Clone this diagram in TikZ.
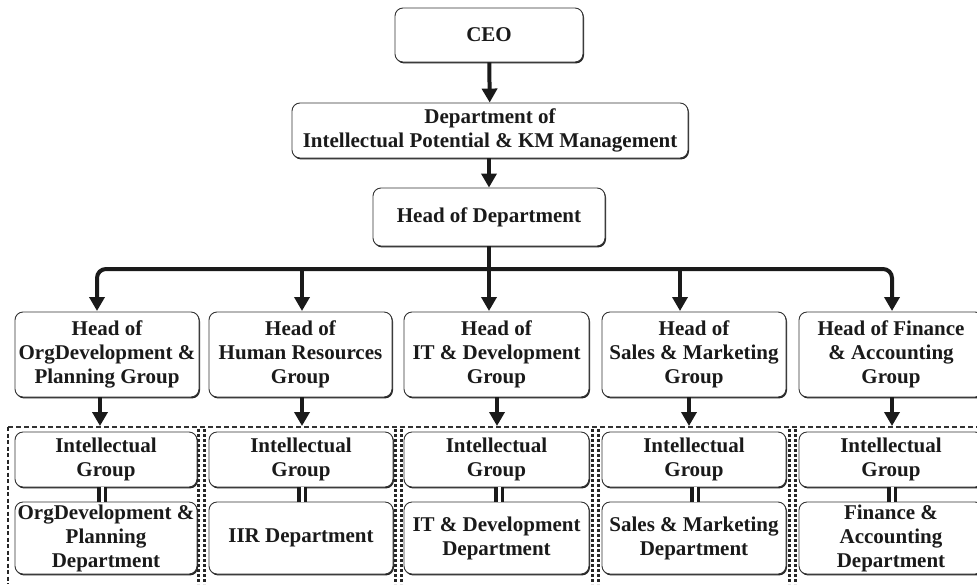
\documentclass[tikz,border=0pt]{standalone}
\usepackage{fontspec}
\setmainfont{Liberation Serif}
\usetikzlibrary{arrows.meta,shadows}
\definecolor{ink}{HTML}{1A1A1A}
\definecolor{edge}{HTML}{333333}
\begin{document}
\begin{tikzpicture}[x=1pt,y=-1pt,
  box/.style={draw=edge, line width=0.9pt, rounded corners=8pt, fill=white,
    drop shadow={shadow xshift=1pt, shadow yshift=-1.4pt, fill=black!85, opacity=1},
    align=center, inner sep=0pt, text=ink,
    font=\bfseries\fontsize{21}{24}\selectfont},
  arr/.style={draw=ink, line width=4pt, -{Triangle[width=15pt,length=14pt]}},
  bar/.style={draw=ink, line width=4pt},
  dbl/.style={draw=ink, line width=3.6pt, double=white, double distance=3pt},
  topdash/.style={draw=black!80, line width=1.5pt, dash pattern=on 5pt off 3pt},
  sidedash/.style={draw=black!85, line width=2.4pt, dash pattern=on 4pt off 2.5pt},
  sepdash/.style={draw=black!85, line width=2.6pt, dash pattern=on 3pt off 2pt},
]
\useasboundingbox[fill=white] (0,0) rectangle (977,584);

% top levels
\node[box, minimum width=188pt, minimum height=54pt] (ceo) at (489,35) {CEO};
\node[box, minimum width=396pt, minimum height=55pt] (dept) at (490,130.5)
  {Department of\\Intellectual Potential \& KM Management};
\node[box, minimum width=232pt, minimum height=58pt] (hod) at (489,217) {Head of Department};

% heads of groups
\node[box, minimum width=184pt, minimum height=85pt] (h1) at (107,354.5) {Head of\\OrgDevelopment \&\\Planning Group};
\node[box, minimum width=183pt, minimum height=85pt] (h2) at (300.5,354.5) {Head of\\Human Resources\\Group};
\node[box, minimum width=185pt, minimum height=85pt] (h3) at (496.5,354.5) {Head of\\IT \& Development\\Group};
\node[box, minimum width=184pt, minimum height=85pt] (h4) at (694,354.5) {Head of\\Sales \& Marketing\\Group};
\node[box, minimum width=184pt, minimum height=85pt] (h5) at (891,354.5) {Head of Finance\\\& Accounting\\Group};

% intellectual groups
\node[box, minimum width=182pt, minimum height=55pt] (i1) at (106,459.5) {Intellectual\\Group};
\node[box, minimum width=184pt, minimum height=55pt] (i2) at (301,459.5) {Intellectual\\Group};
\node[box, minimum width=185pt, minimum height=55pt] (i3) at (496.5,459.5) {Intellectual\\Group};
\node[box, minimum width=184pt, minimum height=55pt] (i4) at (694,459.5) {Intellectual\\Group};
\node[box, minimum width=184pt, minimum height=55pt] (i5) at (891,459.5) {Intellectual\\Group};

% departments
\node[box, minimum width=182pt, minimum height=72pt] (d1) at (106,538) {OrgDevelopment \&\\Planning\\Department};
\node[box, minimum width=184pt, minimum height=72pt] (d2) at (301,538) {IIR Department};
\node[box, minimum width=185pt, minimum height=72pt] (d3) at (496.5,538) {IT \& Development\\Department};
\node[box, minimum width=184pt, minimum height=72pt] (d4) at (694,538) {Sales \& Marketing\\Department};
\node[box, minimum width=184pt, minimum height=72pt] (d5) at (891,538) {Finance \&\\Accounting\\Department};

% dashed frames
\coordinate (fl) at (8,427);
\coordinate (fr) at (977,427);
\draw[topdash] (fl) -- (fr);
\draw[sidedash] (fl) -- (8,584);
\foreach \x in {198.5,204.5,395.5,401.5,592.5,598.5,789.5,795.5}{
  \draw[sepdash] (\x,429) -- (\x,584);
}

% main arrows
\draw[arr] (ceo) -- (dept);
\draw[arr] (dept.south -| hod.north) -- (hod.north);
\coordinate (bus) at (489,269);
\draw[bar] (hod.south) -- (bus);
\coordinate (b1) at (97,311);
\coordinate (b2) at (302,311);
\coordinate (b3) at (489,311);
\coordinate (b4) at (680,311);
\coordinate (b5) at (892,311);
\draw[arr, rounded corners=9pt] (bus) -| (b1);
\draw[arr, rounded corners=9pt] (bus) -| (b5);
\draw[arr] (b2 |- bus) -- (b2);
\draw[arr] (b3 |- bus) -- (b3);
\draw[arr] (b4 |- bus) -- (b4);

% arrows to frames
\coordinate (t1) at (100,426);
\coordinate (t2) at (302,426);
\coordinate (t3) at (497,426);
\coordinate (t4) at (689,426);
\coordinate (t5) at (892,426);
\draw[arr] (h1.south -| t1) -- (t1);
\draw[arr] (h2.south -| t2) -- (t2);
\draw[arr] (h3.south -| t3) -- (t3);
\draw[arr] (h4.south -| t4) -- (t4);
\draw[arr] (h5.south -| t5) -- (t5);

% double links
\coordinate (k1) at (102,0);
\coordinate (k2) at (302,0);
\coordinate (k3) at (499,0);
\coordinate (k4) at (695,0);
\coordinate (k5) at (892,0);
\draw[dbl] (i1.south -| k1) -- (d1.north -| k1);
\draw[dbl] (i2.south -| k2) -- (d2.north -| k2);
\draw[dbl] (i3.south -| k3) -- (d3.north -| k3);
\draw[dbl] (i4.south -| k4) -- (d4.north -| k4);
\draw[dbl] (i5.south -| k5) -- (d5.north -| k5);
\end{tikzpicture}
\end{document}
